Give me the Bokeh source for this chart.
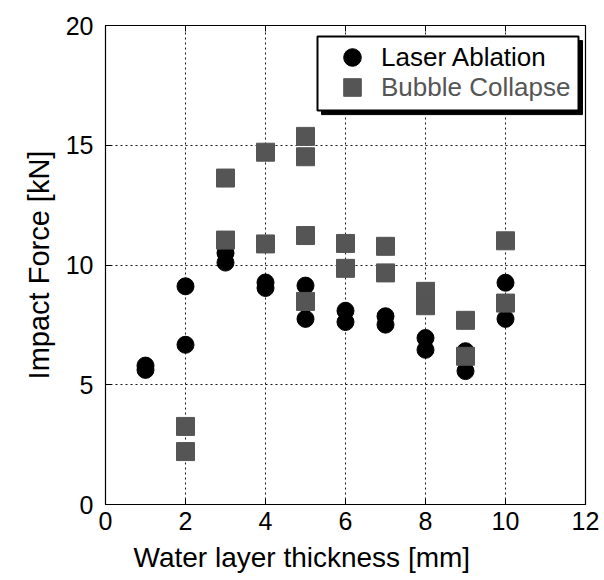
from bokeh.plotting import figure
from bokeh.models import (Range1d, FixedTicker, LinearAxis, Legend, LegendItem,
                          BoxAnnotation, CustomJSTickFormatter, Title)
from bokeh.embed import file_html
from bokeh.resources import INLINE

# Water layer thickness [mm] and measured impact forces [kN]
laser_x = [1, 1, 2, 2, 3, 3, 4, 4, 5, 5, 6, 6, 7, 7, 8, 8, 9, 9, 10, 10]
laser_y = [5.8, 5.62, 9.11, 6.67, 10.5, 10.1, 9.27, 9.04, 9.14, 7.75,
           8.09, 7.62, 7.86, 7.51, 6.95, 6.46, 6.40, 5.57, 9.26, 7.75]

bubble_x = [2, 2, 3, 3, 4, 4, 5, 5, 5, 5, 6, 6, 7, 7, 8, 8, 9, 9, 10, 10]
bubble_y = [3.26, 2.21, 13.63, 11.04, 14.71, 10.88, 15.37, 14.52, 11.23, 8.48,
            10.9, 9.86, 10.78, 9.67, 8.9, 8.3, 7.69, 6.19, 11.01, 8.41]

x_ticks = [0, 2, 4, 6, 8, 10, 12]
y_ticks = [0, 5, 10, 15, 20]

FONT = "Liberation Sans"
GRAY = "#555555"

p = figure(width=604, height=580, x_range=Range1d(0, 12), y_range=Range1d(0, 20),
           output_backend="svg", toolbar_location=None,
           min_border_left=105, min_border_right=19,
           min_border_top=25, min_border_bottom=76)
p.outline_line_color = "black"
p.outline_line_width = 1.2
p.background_fill_color = "white"
p.border_fill_color = "white"

# Axes: inward ticks, plain sans labels
for ax, ticks in ((p.xaxis[0], x_ticks), (p.yaxis[0], y_ticks)):
    ax.ticker = FixedTicker(ticks=ticks)
    ax.major_tick_in = 6
    ax.major_tick_out = 0
    ax.minor_tick_line_color = None
    ax.axis_line_color = "black"
    ax.major_tick_line_color = "black"
    ax.major_label_text_font = FONT
    ax.major_label_text_font_size = "25px"
    ax.major_label_text_color = "black"
    ax.axis_label_text_font = FONT
    ax.axis_label_text_font_style = "normal"
    ax.axis_label_text_color = "black"

p.xaxis.major_label_standoff = 7

# x-axis title sits left of the frame centre
p.add_layout(Title(text="Water layer thickness [mm]", align="left", offset=28,
                   standoff=14, text_font=FONT, text_font_size="28px",
                   text_line_height=1.0,
                   text_font_style="normal", text_color="black"), "below")

p.yaxis.axis_label = "Impact Force [kN]"
p.yaxis.axis_label_text_font_size = "29px"
p.yaxis.major_label_standoff = 12
p.yaxis.axis_label_standoff = 8

# Box-style frame: tick marks on the top and right edges too
blank = CustomJSTickFormatter(code="return ''")
top_ax = LinearAxis(ticker=FixedTicker(ticks=x_ticks), formatter=blank,
                    major_tick_in=6, major_tick_out=0, minor_tick_line_color=None,
                    major_label_standoff=0)
right_ax = LinearAxis(ticker=FixedTicker(ticks=y_ticks), formatter=blank,
                      major_tick_in=6, major_tick_out=0, minor_tick_line_color=None,
                      major_label_standoff=0)
p.add_layout(top_ax, "above")
p.add_layout(right_ax, "right")

# Dotted grid
for g, ticks in ((p.xgrid[0], x_ticks), (p.ygrid[0], y_ticks)):
    g.ticker = FixedTicker(ticks=ticks)
    g.grid_line_color = "black"
    g.grid_line_dash = "2 3"
    g.grid_line_width = 1
    g.grid_line_alpha = 0.9

laser = p.scatter(laser_x, laser_y, marker="circle", size=17,
                  fill_color="black", line_color="black")
bubble = p.scatter(bubble_x, bubble_y, marker="square", size=18,
                   fill_color=GRAY, line_color=GRAY)

# Legend frame with a drop shadow
shadow = BoxAnnotation(left=5.4, right=11.925, top=19.37, bottom=16.28,
                       fill_color="black", fill_alpha=1,
                       line_color="black", line_alpha=1, line_width=1)
frame = BoxAnnotation(left=5.3, right=11.825, top=19.54, bottom=16.45,
                      fill_color="white", fill_alpha=1,
                      line_color="black", line_alpha=1, line_width=2)
p.add_layout(shadow)
p.add_layout(frame)

def make_legend(label, renderer, color, loc):
    return Legend(items=[LegendItem(label=label, renderers=[renderer])],
                  location=loc, margin=0, padding=0,
                  glyph_width=44, glyph_height=44, label_height=44,
                  label_standoff=7, spacing=0,
                  label_text_font=FONT, label_text_font_size="26px",
                  label_text_color=color,
                  border_line_color=None, background_fill_alpha=0)

p.add_layout(make_legend("Laser Ablation", laser, "black", (225, 425)))
p.add_layout(make_legend("Bubble Collapse", bubble, GRAY, (225, 395)))

open("out.html", "w").write(file_html(p, INLINE))
